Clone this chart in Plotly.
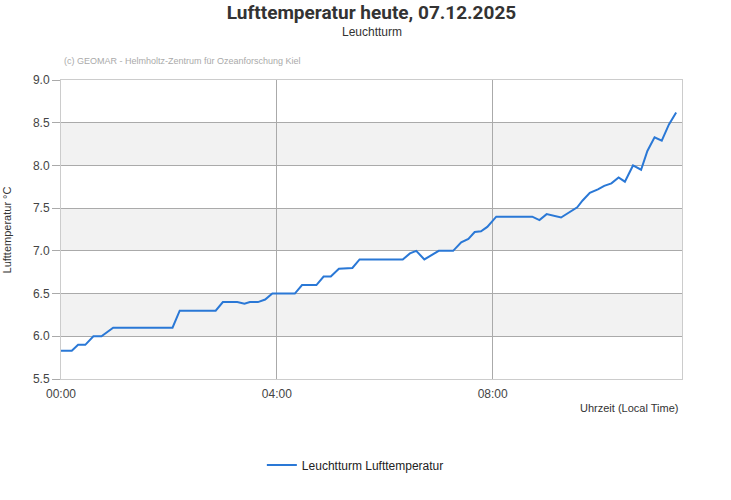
import plotly.graph_objects as go

# Messzeitpunkte (HH:MM) und Lufttemperatur in °C
zeiten = [
    "00:00", "00:12", "00:19", "00:27", "00:36", "00:45", "00:58", "02:04",
    "02:12", "02:52", "03:00", "03:16", "03:24", "03:30", "03:39", "03:47",
    "03:55", "04:20", "04:28", "04:44", "04:52", "05:00", "05:09", "05:24",
    "05:32", "06:20", "06:28", "06:35", "06:44", "06:53", "07:00", "07:16",
    "07:25", "07:33", "07:40", "07:47", "07:54", "08:04", "08:44", "08:52",
    "09:00", "09:16", "09:26", "09:34", "09:40", "09:48", "09:57", "10:04",
    "10:12", "10:20", "10:27", "10:36", "10:45", "10:52", "11:00", "11:08",
    "11:16", "11:24",
]
temperatur = [
    5.83, 5.83, 5.90, 5.90, 6.00, 6.00, 6.10, 6.10,
    6.30, 6.30, 6.40, 6.40, 6.38, 6.40, 6.40, 6.43,
    6.50, 6.50, 6.60, 6.60, 6.70, 6.70, 6.79, 6.80,
    6.90, 6.90, 6.97, 7.00, 6.90, 6.96, 7.00, 7.00,
    7.10, 7.14, 7.22, 7.23, 7.28, 7.40, 7.40, 7.36,
    7.43, 7.39, 7.46, 7.51, 7.59, 7.68, 7.72, 7.76,
    7.79, 7.86, 7.81, 8.00, 7.95, 8.17, 8.33, 8.29,
    8.48, 8.62,
]
datum = "2025-12-07"
x = [f"{datum} {t}" for t in zeiten]

schrift = "Liberation Sans, Arial, sans-serif"
y_ticks = [5.5, 6.0, 6.5, 7.0, 7.5, 8.0, 8.5, 9.0]

fig = go.Figure()
fig.add_trace(go.Scatter(
    x=x, y=temperatur, mode="lines", name="Leuchtturm Lufttemperatur",
    line=dict(color="#2a78d6", width=2),
))

# graue Bänder abwechselnd
for lo in [6.0, 7.0, 8.0]:
    fig.add_hrect(y0=lo, y1=lo + 0.5, fillcolor="#f2f2f2", line_width=0, layer="below")

fig.update_layout(
    width=731, height=500,
    margin=dict(l=61, r=49, t=80, b=121),
    paper_bgcolor="white", plot_bgcolor="white",
    font=dict(family=schrift, size=12, color="#444"),
    title=dict(
        text="<b>Lufttemperatur heute, 07.12.2025</b>",
        x=0.5, xanchor="center", xref="paper", yref="container", y=0.976, yanchor="middle",
        font=dict(family="Roboto, sans-serif", size=19, color="#333"),
    ),
    xaxis=dict(
        range=[f"{datum} 00:00", f"{datum} 11:30:30"],
        tickvals=[f"{datum} 00:00", f"{datum} 04:00", f"{datum} 08:00"],
        ticktext=["00:00", "04:00", "08:00"],
        showgrid=True, gridcolor="#aaaaaa", gridwidth=1,
        showline=True, linecolor="#cccccc", mirror=True,
        zeroline=False, ticks="", ticklabelstandoff=4,
        tickfont=dict(size=12, color="#444"),
    ),
    yaxis=dict(
        range=[5.5, 9.0], tickvals=y_ticks, ticktext=[f"{v:.1f}" for v in y_ticks],
        showgrid=True, gridcolor="#aaaaaa", gridwidth=1,
        showline=True, linecolor="#cccccc", mirror=True, zeroline=False,
        ticks="outside", ticklen=8, tickcolor="#aaaaaa", automargin=False,
        tickfont=dict(size=12, color="#444"),
    ),
    showlegend=True,
    legend=dict(
        orientation="h", x=0.474, xanchor="center", y=-0.2876, yanchor="middle",
        itemwidth=30, font=dict(size=12, color="#222"),
    ),
    annotations=[
        dict(text="Leuchtturm", xref="paper", yref="paper", x=0.5, y=1.1605,
             xanchor="center", yanchor="middle", showarrow=False,
             font=dict(size=12, color="#333")),
        dict(text="(c) GEOMAR - Helmholtz-Zentrum für Ozeanforschung Kiel",
             xref="paper", yref="paper", x=0.0016, y=1.0635, xanchor="left", yanchor="middle",
             showarrow=False, font=dict(size=9, color="#aaaaaa")),
        dict(text="Uhrzeit (Local Time)", xref="paper", yref="paper", x=0.997, y=-0.097,
             xanchor="right", yanchor="middle", showarrow=False,
             font=dict(size=11, color="#333")),
        dict(text="Lufttemperatur °C", xref="paper", yref="paper", x=-0.087, y=0.5,
             xanchor="center", yanchor="middle", textangle=-90, showarrow=False,
             font=dict(size=11, color="#333")),
    ],
)

# Seitenrand entfernen, damit die Grafik bündig im Fenster sitzt
fig.write_html("out.html", config={"displayModeBar": False},
               post_script="document.body.style.margin='0';")
